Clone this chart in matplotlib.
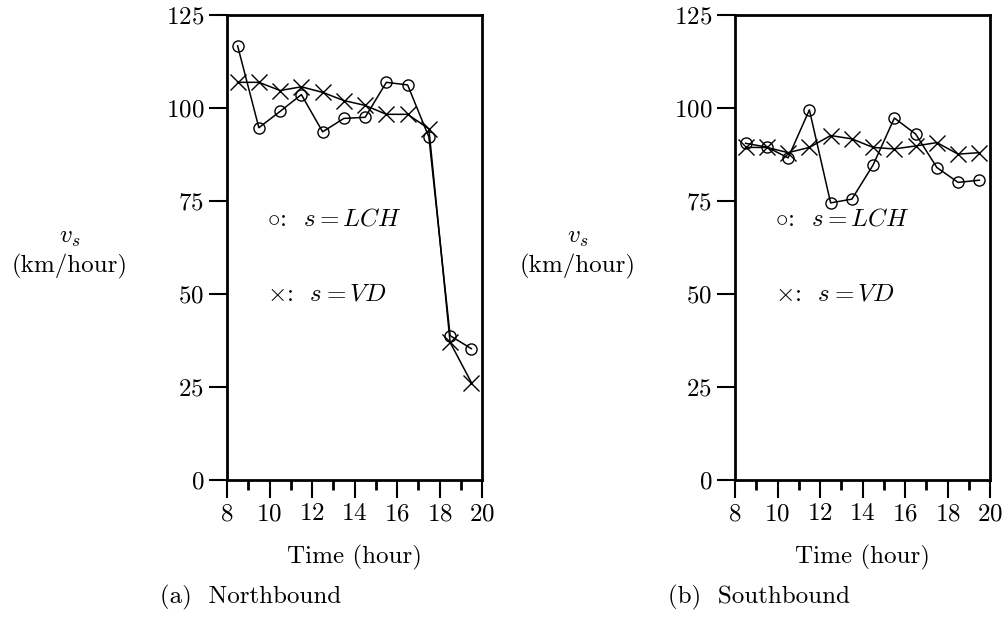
import numpy as np
import matplotlib
matplotlib.use('Agg')
from matplotlib import pyplot as plt
from matplotlib.ticker import MultipleLocator

# data (speed in km/hour at each half hour)
hours = [8.5, 9.5, 10.5, 11.5, 12.5, 13.5, 14.5, 15.5, 16.5, 17.5, 18.5, 19.5]
north_lch = [116.7, 94.7, 99.1, 103.6, 93.6, 97.2, 97.5, 106.9, 106.2, 92.2, 38.8, 35.3]
north_vd = [106.9, 106.9, 104.7, 105.7, 104.2, 102.0, 100.7, 98.3, 98.3, 94.4, 37.0, 26.2]
south_lch = [90.5, 89.5, 86.6, 99.5, 74.5, 75.5, 84.7, 97.3, 93.0, 84.0, 80.0, 80.6]
south_vd = [89.4, 89.4, 88.0, 89.4, 92.6, 91.7, 89.4, 89.0, 89.8, 90.7, 87.6, 88.0]

yticks = [0, 25, 50, 75, 100, 125]
xticks = [8, 10, 12, 14, 16, 18, 20]
captions = ['(a)  Northbound', '(b)  Southbound']

plt.rcParams['font.family'] = 'serif'
plt.rcParams['font.serif'] = ['cmr10']
plt.rcParams['mathtext.fontset'] = 'cm'
plt.rcParams['axes.formatter.use_mathtext'] = True
plt.rcParams['font.size'] = 18

fig = plt.figure(figsize=(10.06, 6.19), dpi=100)

lefts = [227 / 1006, 735 / 1006]
panels = [(north_lch, north_vd), (south_lch, south_vd)]

for i, (lch, vd) in enumerate(panels):
    ax = fig.add_axes([lefts[i], 1 - 480 / 619, 255 / 1006, 465 / 619])
    ax.plot(hours, vd, color='black', lw=1.1, marker='x', ms=11, mew=1.0)
    ax.plot(hours, lch, color='black', lw=1.1, marker='o', ms=8, mfc='none', mew=1.0)
    ax.set_xlim(8, 20)
    ax.set_ylim(0, 125)
    ax.set_xticks(xticks)
    ax.set_yticks(yticks)
    ax.xaxis.set_minor_locator(MultipleLocator(1))
    ax.tick_params(which='major', direction='out', length=13, width=1.5, labelsize=18)
    ax.tick_params(which='minor', direction='out', length=7, width=2)
    ax.tick_params(axis='y', which='minor', left=False)
    for sp in ax.spines.values():
        sp.set_linewidth(2)
    ax.text(9.9, 70, r'$\circ$:  $s = LCH$', va='center', ha='left', fontsize=18)
    ax.text(9.9, 50, r'$\times$:  $s = VD$', va='center', ha='left', fontsize=18)
    ax.set_xlabel('Time (hour)', fontsize=18, labelpad=14)

    cx = lefts[i] * 1006
    fig.text((cx - 157) / 1006, 1 - 238 / 619, r'$v_s$', ha='center', va='center', fontsize=18)
    fig.text((cx - 157) / 1006, 1 - 266 / 619, '(km/hour)', ha='center', va='center', fontsize=18)
    fig.text((cx + 24) / 1006, 1 - 597 / 619, captions[i], ha='center', va='center', fontsize=18)

fig.savefig('out.png', dpi=100)
